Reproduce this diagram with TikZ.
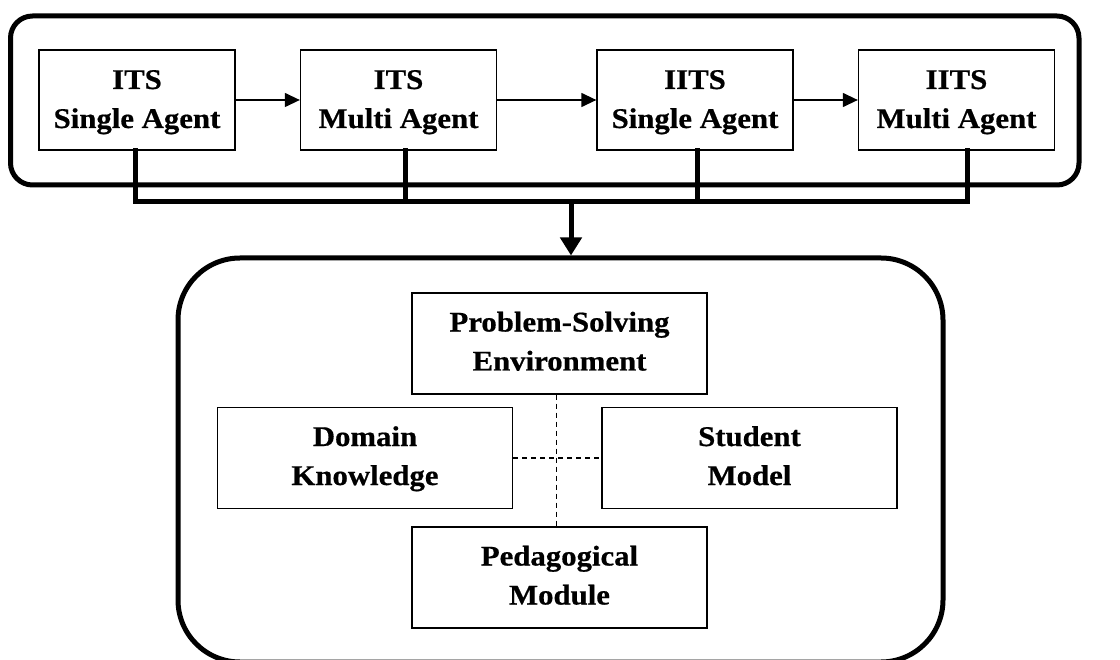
\documentclass[tikz,border=0pt]{standalone}
\usepackage{fontspec}
\setmainfont{Liberation Serif}[FakeStretch=1.07]
\newfontfamily\boxfont{Liberation Serif}[FakeStretch=1.08, BoldFeatures={FakeBold=0.6}]
\usetikzlibrary{arrows.meta}
\begin{document}
\begin{tikzpicture}[x=1pt,y=-1pt,
  box/.style={draw, line width=1.3pt, inner sep=0pt, align=center,
    text depth=0pt, font=\boxfont\bfseries\fontsize{28.5}{39}\selectfont},
  topbox/.style={box, minimum width=196pt, minimum height=100pt, text height=56pt},
  botbox/.style={box, minimum width=295pt, minimum height=101pt, text height=54pt},
  frame/.style={draw, line width=5pt, inner sep=0pt},
  flow/.style={line width=1.3pt, -{Triangle[length=15pt,width=14pt]}},
  bus/.style={line width=5pt, line cap=rect, line join=miter},
  link/.style={line width=1.2pt, dash pattern=on 5pt off 4pt}
]
\useasboundingbox (0,0) rectangle (1120,660);
\clip (0,0) rectangle (1120,660);
% frames
\node[frame, rounded corners=22pt, minimum width=1068.5pt, minimum height=169pt] (outer1) at (544.75,100.5) {};
\node[frame, rounded corners=62pt, minimum width=765pt, minimum height=404pt] (outer2) at (560.5,460) {};
% top row
\node[topbox] (b1) at (137,100) {ITS\\Single Agent};
\node[topbox] (b2) at (398.5,100) {ITS\\Multi Agent};
\node[topbox] (b3) at (695,100) {IITS\\Single Agent};
\node[topbox] (b4) at (956.5,100) {IITS\\Multi Agent};
\draw[flow] (b1) -- (b2);
\draw[flow] (b2) -- (b3);
\draw[flow] (b3) -- (b4);
% bus
\coordinate (j) at (571,202);
\draw[bus] ([xshift=-2pt]b1.south) |- (j) -| ([xshift=10.5pt]b4.south);
\draw[bus] ([xshift=6.5pt]b2.south) -- ([xshift=6.5pt]b2.south |- j);
\draw[bus] ([xshift=2pt]b3.south) -- ([xshift=2pt]b3.south |- j);
\draw[line width=5pt, -{Triangle[length=18pt,width=21pt]}] (j) -- (j |- outer2.north);
% inner boxes
\node[botbox] (pse) at (559.5,343.5) {Problem-Solving\\Environment};
\node[botbox] (dk) at (365,458) {Domain\\Knowledge};
\node[botbox] (sm) at (749.5,458) {Student\\Model};
\node[botbox] (pm) at (559.5,577.5) {Pedagogical\\Module};
\draw[link] ([xshift=-3pt]pse.south) -- ([xshift=-3pt]pm.north);
\draw[link] (dk.east) -- (sm.west);
\end{tikzpicture}
\end{document}
